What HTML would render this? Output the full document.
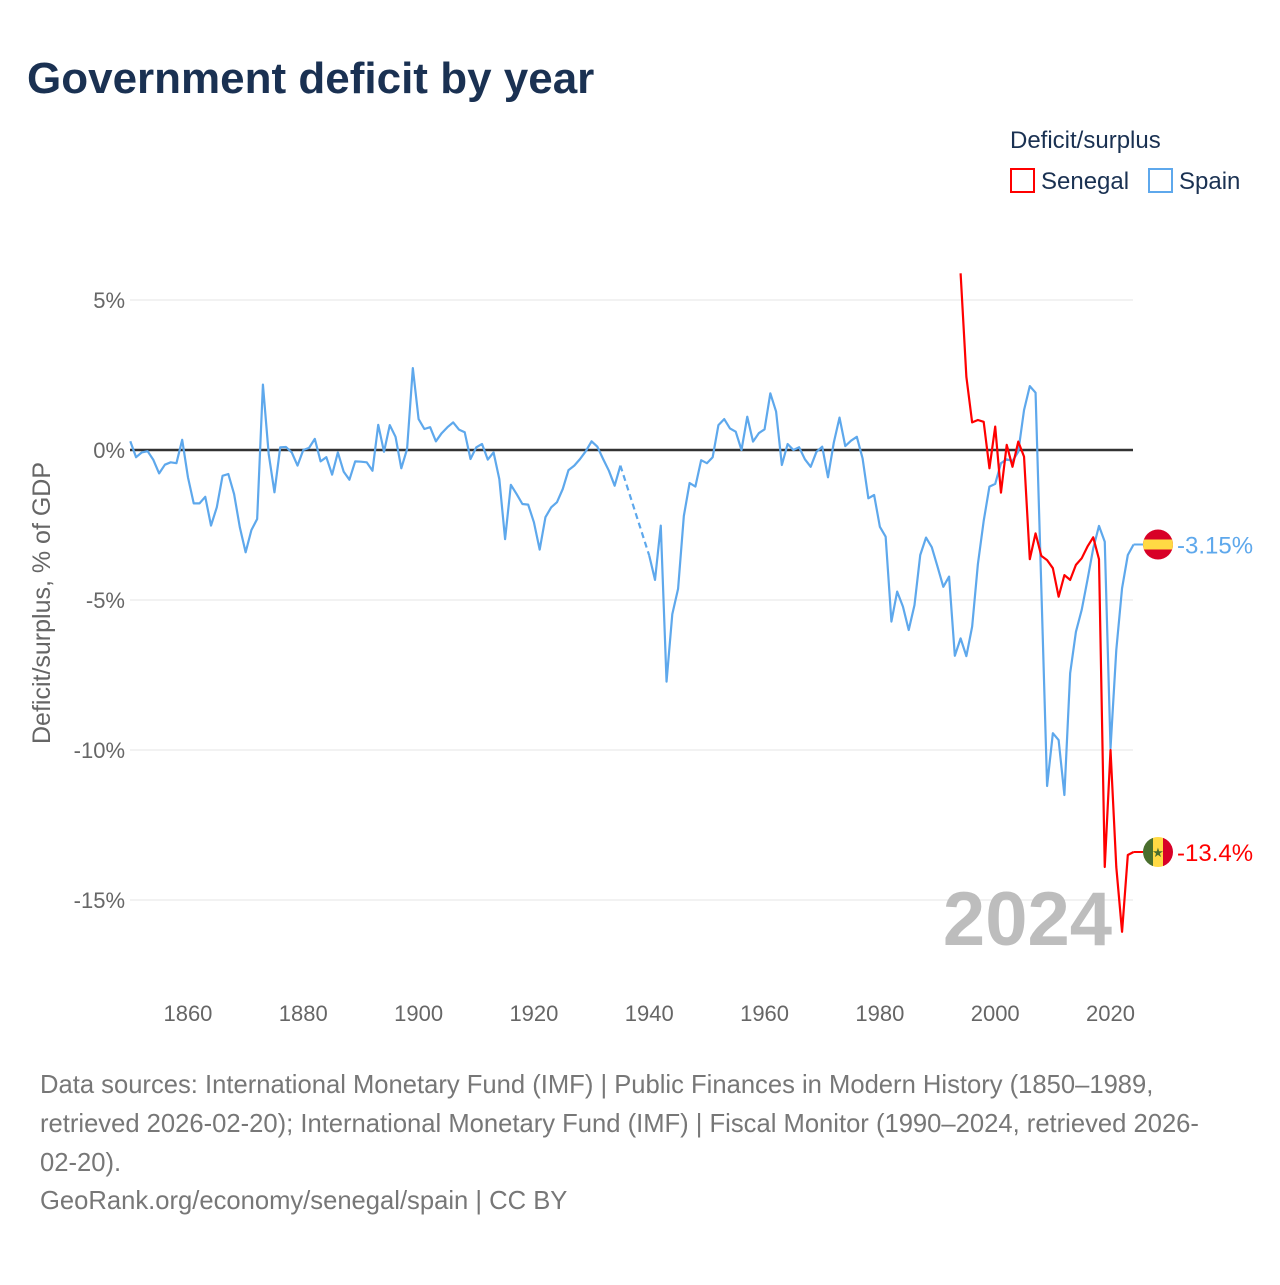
<!DOCTYPE html>
<html><head><meta charset="utf-8"><style>
body{margin:0;background:#fff;font-family:"Liberation Sans",sans-serif;}
</style></head><body>
<svg id="c" width="1280" height="1280" xmlns="http://www.w3.org/2000/svg" style="font-family:'Liberation Sans',sans-serif">
<text x="27" y="93" font-size="44" font-weight="bold" fill="#1a3152">Government deficit by year</text>
<text x="1010" y="148" font-size="24" fill="#1a3152">Deficit/surplus</text>
<g><rect x="1011" y="169" width="23" height="23" fill="none" stroke="#ff0000" stroke-width="2"/><text x="1041" y="189" font-size="24" fill="#1a3152">Senegal</text></g>
<g><rect x="1149" y="169" width="23" height="23" fill="none" stroke="#5ea8ec" stroke-width="2"/><text x="1179" y="189" font-size="24" fill="#1a3152">Spain</text></g>
<text transform="translate(50,603) rotate(-90)" text-anchor="middle" font-size="25" fill="#666">Deficit/surplus, % of GDP</text>
<g id="grid"></g><g id="xt"></g>
<text x="1112" y="945" text-anchor="end" font-size="76" font-weight="bold" fill="#bdbdbd">2024</text>
<g id="series"></g>
<g font-size="25.6" fill="#777">
<text x="40" y="1093">Data sources: International Monetary Fund (IMF) | Public Finances in Modern History (1850–1989,</text>
<text x="40" y="1132">retrieved 2026-02-20); International Monetary Fund (IMF) | Fiscal Monitor (1990–2024, retrieved 2026-</text>
<text x="40" y="1171">02-20).</text>
<text x="40" y="1209">GeoRank.org/economy/senegal/spain | CC BY</text>
</g>
</svg>
<script>
const yTicks=[5,0,-5,-10,-15];
const yTickLabels=["5%","0%","-5%","-10%","-15%"];
const xTicks=[1860,1880,1900,1920,1940,1960,1980,2000,2020];
const spainStart=1850;
const spainValues=[0.29,-0.24,-0.08,-0.04,-0.33,-0.78,-0.49,-0.41,-0.44,0.34,
-0.91,-1.78,-1.78,-1.56,-2.52,-1.91,-0.86,-0.8,-1.47,-2.58,
-3.41,-2.67,-2.3,2.18,-0.13,-1.41,0.09,0.1,-0.08,-0.52,
0,0.07,0.37,-0.38,-0.24,-0.82,-0.08,-0.72,-0.99,-0.38,
-0.39,-0.41,-0.69,0.84,-0.06,0.83,0.44,-0.61,0.03,2.73,
1.03,0.7,0.76,0.29,0.56,0.76,0.92,0.68,0.59,-0.3,
0.09,0.2,-0.32,-0.08,-0.97,-2.97,-1.16,-1.47,-1.8,-1.82,
-2.41,-3.32,-2.24,-1.91,-1.74,-1.3,-0.67,-0.52,-0.3,-0.04,
0.29,0.11,-0.3,-0.69,-1.19,-0.52,null,null,null,null,
-3.52,-4.33,-2.52,-7.72,-5.47,-4.63,-2.2,-1.1,-1.22,-0.34,
-0.44,-0.24,0.83,1.03,0.72,0.61,0,1.11,0.28,0.56,
0.69,1.89,1.28,-0.5,0.2,0,0.09,-0.31,-0.56,-0.06,
0.11,-0.91,0.24,1.08,0.13,0.31,0.44,-0.28,-1.61,-1.5,
-2.56,-2.89,-5.72,-4.72,-5.22,-6.0,-5.17,-3.5,-2.92,-3.24,
-3.89,-4.56,-4.22,-6.86,-6.28,-6.87,-5.89,-3.8,-2.37,-1.22,
-1.13,-0.44,-0.31,-0.37,-0.06,1.33,2.13,1.91,-4.6,-11.2,
-9.44,-9.67,-11.5,-7.44,-6.06,-5.33,-4.33,-3.28,-2.53,-3.06,
-9.94,-6.67,-4.61,-3.5,-3.15];
const senegalStart=1994;
const senegalValues=[5.89,2.44,0.92,1.0,0.94,-0.61,0.78,-1.42,0.17,-0.56,
0.28,-0.22,-3.64,-2.78,-3.53,-3.67,-3.94,-4.89,-4.17,-4.33,
-3.83,-3.61,-3.22,-2.91,-3.64,-13.9,-10.0,-13.9,-16.06,-13.5,-13.4];
const NS="http://www.w3.org/2000/svg";
const X=y=>130.3+(y-1850)*5.766, Y=v=>450-30*v;
function mk(t,a,p){const e=document.createElementNS(NS,t);for(const k in a)e.setAttribute(k,a[k]);p.appendChild(e);return e;}
const grid=document.getElementById('grid'), xt=document.getElementById('xt'), ser=document.getElementById('series');
yTicks.forEach((v,i)=>{
 const l=mk('line',{x1:130,x2:1133,y1:Y(v),y2:Y(v),stroke:v===0?'#333':'#e6e6e6','stroke-width':v===0?2.5:1},grid);
 
 
 const t=mk('text',{x:125,y:Y(v)+8,'text-anchor':'end','font-size':22,fill:'#666'},grid);
 t.textContent=yTickLabels[i];
 
 
});
xTicks.forEach(y=>{
 const t=mk('text',{x:X(y),y:1021,'text-anchor':'middle','font-size':22,fill:'#666'},xt);
 t.textContent=y;
 
 
});
function draw(start,vals,color,name){
 let seg=[],segs=[];
 vals.forEach((v,i)=>{if(v===null){if(seg.length)segs.push(seg);seg=[];}else seg.push([X(start+i),Y(v)]);});
 if(seg.length)segs.push(seg);
 segs.forEach(s=>{const p=mk('polyline',{points:s.map(q=>q.join(',')).join(' '),fill:'none',stroke:color,'stroke-width':2.2,'stroke-linejoin':'round'},ser);
  
  });
 for(let k=0;k<segs.length-1;k++){const a=segs[k][segs[k].length-1],b=segs[k+1][0];
  const d=mk('line',{x1:a[0],y1:a[1],x2:b[0],y2:b[1],stroke:color,'stroke-width':2.2,'stroke-dasharray':'6,4'},ser);
  
  }
}
draw(spainStart,spainValues,'#5ea8ec','spain');
draw(senegalStart,senegalValues,'#ff0000','senegal');
function endLabel(vals,color,name,flag){
 const v=vals[vals.length-1],y=Y(v),x=X(2024);
 const g=mk('g',{},ser);
 
 
 mk('line',{x1:x,x2:1143,y1:y,y2:y,stroke:color,'stroke-width':2},g);
 const cx=1158;
 const cp=mk('clipPath',{id:'cp'+name},g);mk('circle',{cx:cx,cy:y,r:15},cp);
 const f=mk('g',{'clip-path':'url(#cp'+name+')'},g);
 if(flag==='es'){mk('rect',{x:cx-15,y:y-15,width:30,height:30,fill:'#d80027'},f);mk('rect',{x:cx-15,y:y-5,width:30,height:10,fill:'#ffda44'},f);}
 else{mk('rect',{x:cx-15,y:y-15,width:10,height:30,fill:'#496e2d'},f);mk('rect',{x:cx-5,y:y-15,width:10,height:30,fill:'#ffda44'},f);mk('rect',{x:cx+5,y:y-15,width:10,height:30,fill:'#d80027'},f);
  const s=mk('text',{x:cx,y:y+5,'text-anchor':'middle','font-size':13,fill:'#496e2d'},f);s.textContent='★';}
 const t=mk('text',{x:1177,y:y+9,'font-size':24,fill:color},g);
 t.textContent=(v>0?'+':'')+v+'%';
}
endLabel(spainValues,'#5ea8ec','spain','es');
endLabel(senegalValues,'#ff0000','senegal','sn');
</script>
</body></html>
